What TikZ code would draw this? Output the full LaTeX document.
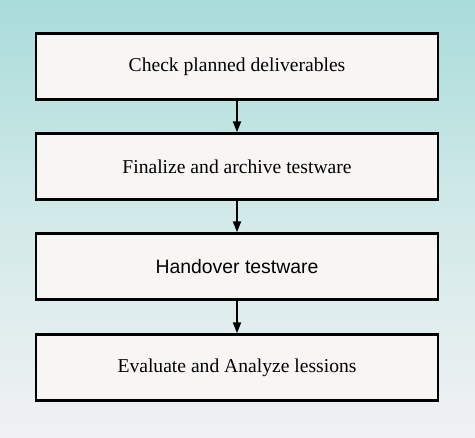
\documentclass[tikz,border=0pt]{standalone}
\usepackage{fontspec}
\setmainfont{Liberation Serif}
\newfontfamily\arialfont{Liberation Sans}
\usetikzlibrary{arrows.meta}
\definecolor{bgtop}{HTML}{A9DCDA}
\definecolor{bgmid}{HTML}{D2EAE9}
\definecolor{bgbot}{HTML}{F1F1F3}
\definecolor{boxfill}{HTML}{F8F6F5}
\tikzset{
  stepbox/.style={draw=black, line width=2.4pt, fill=boxfill, minimum width=402pt, minimum height=66pt, inner sep=0pt, font=\fontsize{19.6}{22}\selectfont},
  flow/.style={line width=2pt, -{Triangle[width=8pt,length=11pt]}},
}
\begin{document}
\begin{tikzpicture}[x=1pt,y=1pt]
\useasboundingbox (0,0) rectangle (475,438);
\shade[top color=bgtop, bottom color=bgbot, middle color=bgmid] (0,0) rectangle (475,438);
\node[stepbox] (a) at (237,371.5) {Check planned deliverables};
\node[stepbox] (b) at (237,271.5) {Finalize and archive testware};
\node[stepbox, font=\arialfont\fontsize{19.4}{22}\selectfont] (c) at (237,171.5) {Handover testware};
\node[stepbox] (d) at (237,70.5) {Evaluate and Analyze lessions};
\draw[flow] (a) -- (b);
\draw[flow] (b) -- (c);
\draw[flow] (c) -- (d);
\end{tikzpicture}
\end{document}
